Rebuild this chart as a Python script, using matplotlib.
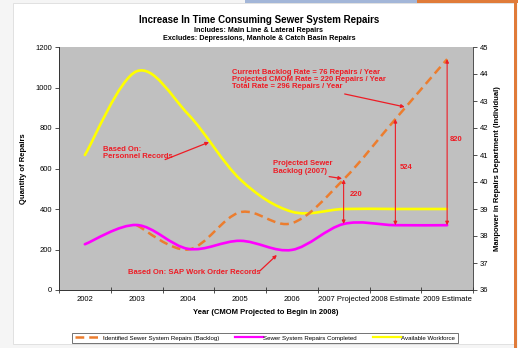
import numpy as np
import matplotlib
matplotlib.use('Agg')
import matplotlib.pyplot as plt
from matplotlib.path import Path
from matplotlib.patches import PathPatch, Rectangle
from matplotlib.lines import Line2D

plt.rcParams['font.family'] = ['Liberation Sans', 'DejaVu Sans']

# data
years = ['2002', '2003', '2004', '2005', '2006', '2007 Projected', '2008 Estimate', '2009 Estimate']
backlog_idx = [1, 2, 3, 4, 5, 6, 7]
backlog = [320, 200, 384, 330, 546, 844, 1140]
completed = [226, 321, 203, 243, 198, 326, 320, 320]
workforce = [41.0, 44.1, 42.5, 40.1, 38.9, 39.0, 39.0, 39.0]

gap_idx = [5, 6, 7]
gap_labels = ['220', '524', '820']

C_BACKLOG = '#ec7d2e'
C_DONE = '#ff00ff'
C_WORK = '#ffff00'
C_RED = '#ee1c25'
C_BG = '#c0c0c0'


def smooth_path(xs, ys):
    # Excel style smoothed line: Catmull-Rom segments as cubic Beziers
    pts = np.column_stack([xs, ys]).astype(float)
    n = len(pts)
    verts = [pts[0]]
    codes = [Path.MOVETO]
    for i in range(n - 1):
        p0 = pts[i - 1] if i > 0 else pts[i]
        p1 = pts[i]
        p2 = pts[i + 1]
        p3 = pts[i + 2] if i + 2 < n else pts[i + 1]
        verts += [p1 + (p2 - p0) / 6, p2 - (p3 - p1) / 6, p2]
        codes += [Path.CURVE4] * 3
    return Path(verts, codes)


fig = plt.figure(figsize=(5.18, 3.48), dpi=100)
fig.patch.set_facecolor('#f5f5f5')

# screenshot frame
fig.patches.append(Rectangle((13 / 518, 4 / 348), 501 / 518, 341 / 348, transform=fig.transFigure,
                             facecolor='white', edgecolor='#dddddd', linewidth=0.6, zorder=-5))
fig.patches.append(Rectangle((245 / 518, 345 / 348), 172 / 518, 3 / 348, transform=fig.transFigure,
                             facecolor='#a3b6d8', edgecolor='none', zorder=-4))
fig.patches.append(Rectangle((417 / 518, 345 / 348), 101 / 518, 3 / 348, transform=fig.transFigure,
                             facecolor='#e07b39', edgecolor='none', zorder=-4))
fig.patches.append(Rectangle((514 / 518, 0), 2.5 / 518, 1, transform=fig.transFigure,
                             facecolor='#e07b39', edgecolor='none', zorder=-4))

ax = fig.add_axes([59 / 518, 58 / 348, 414 / 518, 243 / 348])
ax2 = ax.twinx()
ax.set_zorder(ax2.get_zorder() + 1)
ax.patch.set_visible(False)
ax2.patch.set_visible(True)
ax2.patch.set_facecolor(C_BG)

x = np.arange(len(years))
ax.set_xlim(-0.5, len(years) - 0.5)
ax.set_ylim(0, 1200)
ax2.set_ylim(36, 45)

# lines
ax2.add_patch(PathPatch(smooth_path(x, workforce), fill=False, edgecolor=C_WORK, linewidth=1.9,
                        capstyle='round'))
ax.add_patch(PathPatch(smooth_path(backlog_idx, backlog), fill=False, edgecolor=C_BACKLOG,
                       linewidth=1.8, linestyle=(0, (3.5, 2))))
ax.add_patch(PathPatch(smooth_path(x, completed), fill=False, edgecolor=C_DONE, linewidth=1.9,
                       capstyle='round'))

# vertical gap arrows and labels
bl = dict(zip(backlog_idx, backlog))
for i, lab, dx in zip(gap_idx, gap_labels, [0.25, 0.2, 0.18]):
    lo, hi = completed[i], bl[i]
    ax.annotate('', xy=(i, hi), xytext=(i, lo),
                arrowprops=dict(arrowstyle='<|-|>', color=C_RED, lw=0.8,
                                mutation_scale=5, shrinkA=0, shrinkB=0))
    ax.text(i + dx, lo + (hi - lo) * 0.47 + 40, lab, color=C_RED, fontsize=5.5,
            fontweight='bold', ha='center', va='center')

tk = dict(color=C_RED, fontsize=5.5, fontweight='bold', ha='left', linespacing=1.05)
arr = dict(arrowstyle='-|>', color=C_RED, lw=0.9, mutation_scale=5, shrinkA=0, shrinkB=0)

ax.text(2.84, 1093,
        'Current Backlog Rate = 76 Repairs / Year\n'
        'Projected CMOM Rate = 220 Repairs / Year\n'
        'Total Rate = 296 Repairs / Year', va='top', **tk)
ax.annotate('', xy=(6.18, 904), xytext=(5.02, 968), arrowprops=arr)

ax.text(0.35, 710, 'Based On:\nPersonnel Records', va='top', **tk)
ax.annotate('', xy=(2.40, 730), xytext=(1.55, 644), arrowprops=arr)

ax.text(0.83, 84, 'Based On: SAP Work Order Records', va='center', **tk)
ax.annotate('', xy=(3.71, 173), xytext=(3.38, 94), arrowprops=arr)

ax.text(3.63, 640, 'Projected Sewer\nBacklog (2007)', va='top', **tk)
ax.annotate('', xy=(4.97, 550), xytext=(4.72, 560), arrowprops=arr)

# axes styling
ax.set_xticks(np.arange(-0.5, len(years), 1.0))
ax.set_xticklabels([])
ax.set_xticks(x, minor=True)
ax.set_xticklabels(years, minor=True, fontsize=5.5)
ax.tick_params(axis='x', which='major', direction='inout', length=5, width=0.6, color='#333333')
ax.tick_params(axis='x', which='minor', length=0, pad=4)
ax.set_yticks(np.arange(0, 1201, 200))
ax.tick_params(axis='y', labelsize=5.5, length=3, width=0.6, color='#333333', pad=2)
ax2.set_yticks(np.arange(36, 46, 1))
ax2.tick_params(axis='y', labelsize=5.5, length=3, width=0.6, color='#333333', pad=2)

for a in (ax, ax2):
    for s in a.spines.values():
        s.set_visible(False)
    for s in ('left', 'bottom', 'right'):
        a.spines[s].set_visible(True)
        a.spines[s].set_linewidth(0.6)
        a.spines[s].set_color('#333333')
ax.spines['right'].set_visible(False)

ax.set_xlabel('Year (CMOM Projected to Begin in 2008)', fontsize=5.5, fontweight='bold', labelpad=5)
ax.set_ylabel('Quantity of Repairs', fontsize=5.5, fontweight='bold', labelpad=6)
ax2.set_ylabel('Manpower in Repairs Department (Individual)', fontsize=5.5, fontweight='bold',
               labelpad=4)

fig.text(0.5, 1 - 20 / 348, 'Increase In Time Consuming Sewer System Repairs', ha='center',
         va='center', fontsize=7, fontweight='bold')
fig.text(0.5, 1 - 30 / 348, 'Includes: Main Line & Lateral Repairs', ha='center', va='center',
         fontsize=5.2, fontweight='bold')
fig.text(0.5, 1 - 38 / 348, 'Excludes: Depressions, Manhole & Catch Basin Repairs', ha='center',
         va='center', fontsize=5.2, fontweight='bold')

handles = [
    Line2D([], [], color=C_BACKLOG, lw=1.8, linestyle=(0, (3.5, 2))),
    Line2D([], [], color=C_DONE, lw=1.6),
    Line2D([], [], color=C_WORK, lw=1.6),
]
labels = ['Identified Sewer System Repairs (Backlog)', 'Sewer System Repairs Completed',
          'Available Workforce']
leg = fig.legend(handles, labels, loc='center', bbox_to_anchor=(265 / 518, 1 - 338 / 348), ncol=3,
                 fontsize=4.4, frameon=True, fancybox=False, handlelength=4.5, handletextpad=0.1,
                 columnspacing=2.6, borderpad=0.45)
leg.get_frame().set_edgecolor('#333333')
leg.get_frame().set_linewidth(0.6)

fig.savefig('out.png', dpi=100)
